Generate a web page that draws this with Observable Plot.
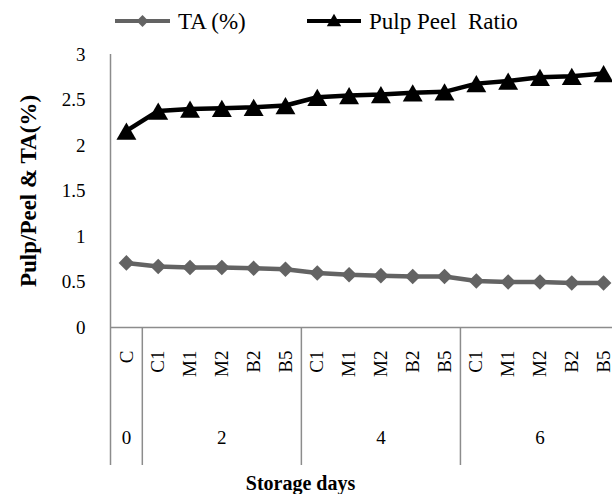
<!DOCTYPE html>
<html>
<head>
<meta charset="utf-8">
<script src="https://cdn.jsdelivr.net/npm/d3@7"></script>
<script src="https://cdn.jsdelivr.net/npm/@observablehq/plot@0.6"></script>
<style>
  html, body { margin: 0; padding: 0; background: #fff; overflow: hidden; }
  #wrap { position: relative; width: 612px; height: 494px; font-family: "Liberation Serif", "Times New Roman", serif; }
  #legend { position: relative; width: 612px; height: 38px; }
  .lg-text { position: absolute; top: 21px; transform: translateY(-50%); font-family: "Liberation Serif", "Times New Roman", serif; font-size: 23px; white-space: pre; line-height: 1; color: #000; }
  .lg-sw { position: absolute; top: 0; }
  #chart svg text { font-family: "Liberation Serif", "Times New Roman", serif; }
</style>
</head>
<body>
<div id="wrap">
  <div id="legend"></div>
  <div id="chart"></div>
</div>
<script>
// ---- data ----
const treatments = ["C","C1","M1","M2","B2","B5","C1","M1","M2","B2","B5","C1","M1","M2","B2","B5"];
const storageDay = ["0","2","2","2","2","2","4","4","4","4","4","6","6","6","6","6"];
const days = ["0","2","4","6"];
const taPct = [0.71, 0.67, 0.66, 0.66, 0.65, 0.64, 0.60, 0.58, 0.57, 0.56, 0.56, 0.51, 0.50, 0.50, 0.49, 0.49];
const pulpPeel = [2.16, 2.38, 2.40, 2.41, 2.42, 2.44, 2.53, 2.55, 2.56, 2.58, 2.59, 2.68, 2.71, 2.75, 2.76, 2.79];
const yTicks = [0, 0.5, 1, 1.5, 2, 2.5, 3];
const seriesNames = ["TA (%)", "Pulp Peel  Ratio"];

const taColor = "#636363";
const ppColor = "#000000";
const axisColor = "#8c8c8c";
const serif = "Liberation Serif, Times New Roman, serif";

// ---- derived tables ----
const idx = treatments.map((_, i) => i);
const taRows = idx.map(i => ({i, v: taPct[i]}));
const ppRows = idx.map(i => ({i, v: pulpPeel[i]}));
const groups = days.map(d => {
  const ii = idx.filter(i => storageDay[i] === d);
  return {day: d, center: d3.mean(ii), lo: d3.min(ii) - 0.5, hi: d3.max(ii) + 0.5};
});
const separators = [groups[0].lo, ...groups.map(g => g.hi)];

// ---- legend (HTML) ----
const legend = document.getElementById("legend");
function addItem(x0, x1, name, color, symbol, size) {
  const sw = d3.create("svg").attr("class", "lg-sw").attr("width", 612).attr("height", 38)
    .style("left", "0px").style("position", "absolute");
  sw.append("line").attr("x1", x0).attr("x2", x1).attr("y1", 21).attr("y2", 21)
    .attr("stroke", color).attr("stroke-width", 4);
  sw.append("path").attr("d", d3.symbol(symbol, size)())
    .attr("transform", `translate(${(x0 + x1) / 2},${symbol === d3.symbolTriangle ? 22 : 21})`)
    .attr("fill", color);
  legend.appendChild(sw.node());
  const t = document.createElement("div");
  t.className = "lg-text";
  t.style.left = (x1 + 8) + "px";
  t.textContent = name;
  legend.appendChild(t);
}
addItem(115, 170, seriesNames[0], taColor, d3.symbolDiamond2, 90);
addItem(307, 361, seriesNames[1], ppColor, d3.symbolTriangle, 90);

// ---- chart ----
const H = 456, mTop = 16, mBottom = 167;
const chart = Plot.plot({
  width: 612,
  height: H,
  marginLeft: 110,
  marginRight: 0,
  marginTop: mTop,
  marginBottom: mBottom,
  style: {fontFamily: serif, fontSize: "19px", color: "#000", background: "#fff", overflow: "hidden"},
  x: {type: "linear", domain: [-0.5, 15.5], range: [110, 619], axis: null},
  y: {domain: [0, 3], axis: null},
  marks: [
    Plot.axisY({ticks: yTicks, tickFormat: d => String(d), tickSize: 0, tickPadding: 25, label: null, fontSize: 19, fontFamily: serif}),
    Plot.ruleY([0], {stroke: axisColor, strokeWidth: 1.5}),
    Plot.ruleX([separators[0]], {stroke: axisColor, strokeWidth: 1.5, insetBottom: -138}),
    Plot.ruleX(separators.slice(1, -1), {stroke: axisColor, strokeWidth: 1.5, insetTop: H - mTop - mBottom, insetBottom: -138}),
    Plot.text(treatments, {x: (d, i) => i, text: d => d, frameAnchor: "bottom", dy: 23, rotate: -90, textAnchor: "end", lineAnchor: "middle", fontSize: 19, fontFamily: serif}),
    Plot.text(groups, {x: "center", text: "day", frameAnchor: "bottom", dy: 116, fontSize: 19, fontFamily: serif}),
    Plot.text(["Storage days"], {frameAnchor: "bottom-left", textAnchor: "middle", dx: 190, dy: 162, fontSize: 20, fontWeight: "bold", fontFamily: serif}),
    Plot.text(["Pulp/Peel & TA(%)"], {frameAnchor: "left", textAnchor: "middle", dx: -82, rotate: -90, fontSize: 23, fontWeight: "bold", fontFamily: serif}),
    Plot.line(taRows, {x: "i", y: "v", stroke: taColor, strokeWidth: 4.5}),
    Plot.dot(taRows, {x: "i", y: "v", symbol: "diamond2", r: 7, fill: taColor, stroke: "none"}),
    Plot.line(ppRows, {x: "i", y: "v", stroke: ppColor, strokeWidth: 4.5}),
    Plot.dot(ppRows, {x: "i", y: "v", symbol: "triangle", r: 7.4, fill: ppColor, stroke: "none", dy: 3})
  ]
});
document.getElementById("chart").appendChild(chart);
</script>
</body>
</html>
